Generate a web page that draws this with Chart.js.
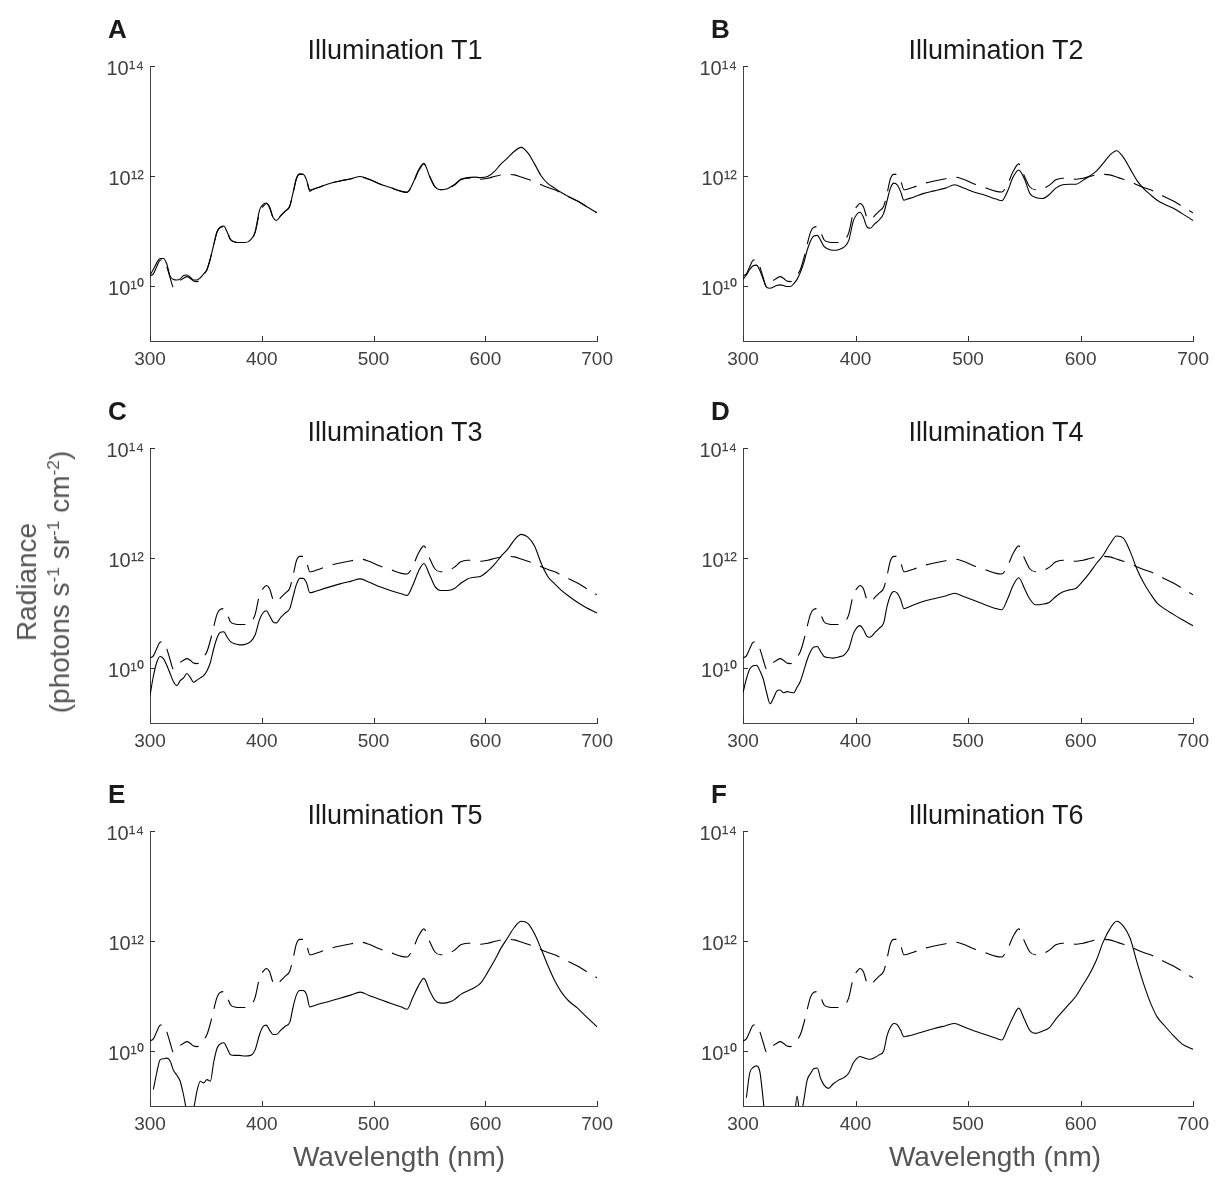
<!DOCTYPE html>
<html><head><meta charset="utf-8">
<script src="https://cdn.jsdelivr.net/npm/chart.js@4.4.0/dist/chart.umd.min.js"></script>
<style>
html,body{margin:0;padding:0;background:#fff;}
#wrap{position:relative;width:1216px;height:1178px;overflow:hidden;font-family:"Liberation Sans",Arial,sans-serif;}
#wrap canvas{position:absolute;}
.lbl{position:absolute;white-space:nowrap;line-height:1;}
.sup{font-size:0.62em;position:relative;top:-0.55em;line-height:0;}
</style></head><body><div id="wrap"></div>
<script>
// Wavelength samples (nm)
const wavelengths = [
  300,303,306,309,312,315,318,321,324,327,330,333,
  336,339,342,345,348,351,354,357,360,363,366,369,
  372,376,380,385,390,394,398,401,404,407,410,413,
  417,421,425,428,431,434,437,440,443,446,452,
  460,470,480,488,496,505,515,525,530,535,540,545,
  550,555,560,566,572,578,584,590,596,602,608,614,
  620,626,632,638,644,650,656,662,668,675,682,690,700
];
// log10 radiance (photons s-1 sr-1 cm-2), dashed reference spectrum
const referenceLog = [
  10.18,10.22,10.35,10.47,10.48,10.35,10.15,9.98,10.02,10.10,10.14,10.17,
  10.14,10.09,10.08,10.12,10.20,10.30,10.50,10.75,10.98,11.07,11.08,10.98,
  10.84,10.80,10.79,10.79,10.83,10.97,11.33,11.44,11.50,11.44,11.25,11.20,
  11.28,11.36,11.45,11.68,11.95,12.03,12.03,11.93,11.75,11.76,11.80,
  11.86,11.91,11.95,11.98,11.94,11.86,11.79,11.72,11.71,11.85,12.08,12.22,
  12.00,11.80,11.75,11.77,11.83,11.93,11.96,11.96,11.94,11.96,11.99,12.02,
  12.03,12.02,11.98,11.94,11.90,11.84,11.79,11.75,11.69,11.62,11.55,11.45,11.33
];
const illuminationT1Log = [
  10.20,10.30,10.42,10.50,10.50,10.40,10.18,10.12,10.11,10.13,10.19,10.20,
  10.16,10.11,10.11,10.15,10.22,10.30,10.50,10.75,10.99,11.07,11.09,10.98,
  10.85,10.80,10.79,10.79,10.84,10.98,11.38,11.48,11.51,11.42,11.25,11.19,
  11.28,11.36,11.45,11.70,11.96,12.04,12.03,11.93,11.72,11.76,11.80,
  11.86,11.91,11.95,11.99,11.94,11.86,11.79,11.72,11.70,11.86,12.10,12.23,
  12.00,11.80,11.75,11.77,11.84,11.94,11.97,11.98,11.97,11.99,12.08,12.22,
  12.33,12.45,12.52,12.42,12.22,12.00,11.86,11.78,11.70,11.62,11.55,11.45,11.33
];
const illuminationT2Log = [
  10.12,10.20,10.30,10.37,10.38,10.28,10.12,9.98,9.96,9.98,10.01,10.02,
  10.01,9.99,9.99,10.04,10.12,10.25,10.42,10.65,10.82,10.91,10.92,10.83,
  10.72,10.67,10.65,10.66,10.71,10.83,11.18,11.30,11.34,11.25,11.08,11.05,
  11.13,11.20,11.32,11.55,11.78,11.87,11.84,11.72,11.56,11.58,11.62,
  11.68,11.73,11.78,11.84,11.78,11.71,11.65,11.58,11.55,11.72,11.98,12.11,
  11.95,11.68,11.61,11.59,11.66,11.78,11.84,11.85,11.85,11.92,12.00,12.09,
  12.23,12.38,12.46,12.34,12.13,11.92,11.77,11.66,11.56,11.48,11.42,11.32,11.19
];
const illuminationT3Log = [
  9.50,9.85,10.10,10.21,10.17,10.05,9.90,9.75,9.68,9.77,9.82,9.90,
  9.83,9.74,9.78,9.82,9.86,9.95,10.10,10.35,10.55,10.65,10.66,10.56,
  10.48,10.44,10.42,10.43,10.48,10.60,10.88,11.00,11.04,10.95,10.84,10.82,
  10.92,11.00,11.08,11.30,11.52,11.63,11.63,11.55,11.37,11.38,11.42,
  11.47,11.53,11.58,11.62,11.56,11.48,11.41,11.35,11.32,11.50,11.75,11.90,
  11.70,11.48,11.41,11.41,11.44,11.54,11.62,11.65,11.67,11.76,11.88,12.03,
  12.16,12.33,12.43,12.38,12.22,11.90,11.66,11.53,11.41,11.30,11.20,11.10,11.00
];
const illuminationT4Log = [
  9.55,9.80,9.98,10.04,10.05,9.95,9.80,9.55,9.35,9.45,9.58,9.60,
  9.55,9.57,9.56,9.55,9.65,9.76,9.95,10.15,10.30,10.38,10.39,10.30,
  10.21,10.19,10.18,10.20,10.24,10.35,10.62,10.73,10.77,10.70,10.58,10.56,
  10.64,10.72,10.82,11.12,11.32,11.39,11.36,11.25,11.08,11.10,11.15,
  11.21,11.26,11.31,11.36,11.30,11.23,11.15,11.08,11.06,11.25,11.50,11.64,
  11.45,11.25,11.15,11.16,11.19,11.30,11.38,11.42,11.45,11.58,11.73,11.90,
  12.05,12.25,12.40,12.36,12.12,11.80,11.55,11.35,11.18,11.07,10.98,10.88,10.77
];
const illuminationT5Log = [
  null,9.30,9.60,9.84,9.86,9.87,9.82,9.65,9.56,9.45,9.20,8.90,
  8.80,8.95,9.27,9.45,9.42,9.48,9.45,9.80,10.05,10.13,10.15,10.05,
  9.93,9.92,9.92,9.91,9.92,10.02,10.30,10.44,10.47,10.38,10.30,10.30,
  10.38,10.45,10.52,10.80,11.02,11.10,11.10,11.03,10.80,10.82,10.86,
  10.90,10.96,11.02,11.07,11.01,10.94,10.87,10.80,10.76,10.97,11.18,11.32,
  11.10,10.92,10.87,10.88,10.93,11.03,11.09,11.15,11.24,11.43,11.64,11.87,
  12.06,12.25,12.36,12.32,12.13,11.85,11.55,11.28,11.07,10.90,10.79,10.63,10.44
];
const illuminationT6Log = [
  null,9.15,9.60,9.70,9.73,9.62,9.10,8.50,8.50,8.50,8.50,8.50,
  8.50,8.50,8.50,8.60,9.18,8.80,9.10,9.47,9.59,9.68,9.69,9.50,
  9.38,9.32,9.40,9.47,9.52,9.60,9.78,9.86,9.90,9.88,9.86,9.85,
  9.88,9.93,10.00,10.28,10.43,10.50,10.48,10.38,10.26,10.27,10.30,
  10.35,10.41,10.46,10.50,10.44,10.37,10.30,10.23,10.20,10.40,10.62,10.78,
  10.58,10.37,10.32,10.36,10.42,10.58,10.72,10.86,11.00,11.20,11.40,11.65,
  11.98,12.22,12.36,12.27,12.05,11.62,11.22,10.88,10.62,10.45,10.29,10.13,10.03
];
const panelTitles = ['Illumination T1','Illumination T2','Illumination T3','Illumination T4','Illumination T5','Illumination T6'];
const panelLetters = ['A','B','C','D','E','F'];
const xTickValues = [300,400,500,600,700];
const yTickValues = [10,12,14];
const yTickLabels = ['10\u00B9\u2070','10\u00B9\u00B2','10\u00B9\u2074'];
const xAxisTitle = 'Wavelength (nm)';

const solidSeries = [illuminationT1Log,illuminationT2Log,illuminationT3Log,illuminationT4Log,illuminationT5Log,illuminationT6Log];

const colGeom = [
  {canvasLeft:40, width:580, axisLeft:150, axisRight:600, titleX:395, letterX:108, xlabX:399},
  {canvasLeft:630, width:586, axisLeft:743, axisRight:1196, titleX:996, letterX:711, xlabX:995}
];
const rowGeom = [
  {top:0, axisTop:66, axisBottom:341},
  {top:383, axisTop:448, axisBottom:723},
  {top:766, axisTop:831, axisBottom:1106}
];
const CH = 400;
const FONT = '"Liberation Sans", Arial, sans-serif';
const wrap = document.getElementById('wrap');

function addText(html, opts){
  const d = document.createElement('div');
  d.className = 'lbl';
  d.innerHTML = html;
  d.style.fontSize = opts.size + 'px';
  d.style.color = opts.color;
  if (opts.bold) d.style.fontWeight = 'bold';
  d.style.top = (opts.baseline - 0.8465*opts.size) + 'px';
  if (opts.centerX !== undefined){ d.style.left = opts.centerX + 'px'; d.style.transform = 'translateX(-50%)'; }
  else d.style.left = opts.left + 'px';
  wrap.appendChild(d);
  return d;
}

const innerTicks = {
  id:'innerTicks',
  afterDatasetsDraw(chart){
    const {ctx, chartArea:{left,bottom}, scales:{x,y}} = chart;
    ctx.save(); ctx.strokeStyle='#333'; ctx.lineWidth=1;
    ctx.beginPath();
    x.ticks.forEach(t=>{const px=Math.round(x.getPixelForValue(t.value))+0.5; ctx.moveTo(px,bottom); ctx.lineTo(px,bottom-5);});
    y.ticks.forEach(t=>{const py=Math.round(y.getPixelForValue(t.value))+0.5; ctx.moveTo(left,py); ctx.lineTo(left+5,py);});
    ctx.stroke(); ctx.restore();
  }
};

solidSeries.forEach((series, i) => {
  const cg = colGeom[i%2], rg = rowGeom[Math.floor(i/2)];
  const cv = document.createElement('canvas');
  cv.width = cg.width; cv.height = CH;
  cv.style.left = cg.canvasLeft + 'px'; cv.style.top = rg.top + 'px';
  cv.style.width = cg.width + 'px'; cv.style.height = CH + 'px';
  wrap.appendChild(cv);
  const yW = cg.axisLeft - cg.canvasLeft;
  const xH = rg.top + CH - rg.axisBottom;
  new Chart(cv.getContext('2d'), {
    type:'line',
    data:{datasets:[
      {label:'Reference', data:wavelengths.map((w,k)=>({x:w,y:referenceLog[k]})),
       borderColor:'#000', borderWidth:1.1, borderDash:[21,10], pointRadius:0, cubicInterpolationMode:'monotone', spanGaps:false},
      {label:panelTitles[i], data:wavelengths.map((w,k)=>({x:w,y:series[k]})),
       borderColor:'#000', borderWidth:1.1, pointRadius:0, cubicInterpolationMode:'monotone', spanGaps:false}
    ]},
    options:{
      responsive:false, animation:false, devicePixelRatio:1,
      layout:{padding:{left:0, right:cg.canvasLeft+cg.width-cg.axisRight, top:rg.axisTop-rg.top, bottom:0}},
      plugins:{legend:{display:false}, title:{display:false}, tooltip:{enabled:false}},
      scales:{
        x:{type:'linear', min:300, max:700,
           afterBuildTicks:s=>{s.ticks = xTickValues.map(v=>({value:v}));},
           afterFit:s=>{s.height = xH;},
           grid:{display:true, drawOnChartArea:false, drawTicks:false},
           border:{display:true, color:'#444', width:1},
           ticks:{autoSkip:false, maxRotation:0, padding:7, color:'#404040', font:{family:FONT, size:19}, callback:v=>String(v)}},
        y:{type:'linear', min:9, max:14,
           afterBuildTicks:s=>{s.ticks = yTickValues.map(v=>({value:v}));},
           afterFit:s=>{s.width = yW;},
           grid:{display:true, drawOnChartArea:false, drawTicks:false},
           border:{display:true, color:'#444', width:1},
           ticks:{autoSkip:false, padding:6, labelOffset:3, color:'#404040', font:{family:FONT, size:20}, callback:v=>yTickLabels[yTickValues.indexOf(v)]}}
      }
    },
    plugins:[innerTicks]
  });
  addText(panelLetters[i], {size:26, bold:true, color:'#1a1a1a', left:cg.letterX, baseline:rg.axisTop-28});
  addText(panelTitles[i], {size:27, color:'#1a1a1a', centerX:cg.titleX, baseline:rg.axisTop-6});
  if (Math.floor(i/2) === 2) addText(xAxisTitle, {size:28, color:'#555', centerX:cg.xlabX, baseline:1167});
});

// shared y-axis title
const yl = document.createElement('div');
yl.className = 'lbl';
yl.style.cssText += 'font-size:28px;color:#555;text-align:center;line-height:33px;left:43px;top:582px;transform:translate(-50%,-50%) rotate(-90deg);';
yl.innerHTML = 'Radiance<br>(photons s<span class="sup">-1</span> sr<span class="sup">-1</span> cm<span class="sup">-2</span>)';
wrap.appendChild(yl);
</script></body></html>
